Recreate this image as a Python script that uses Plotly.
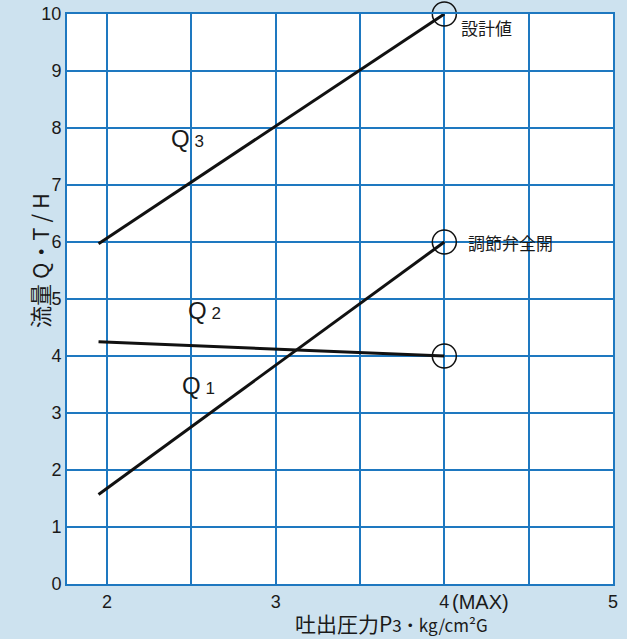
import plotly.graph_objects as go

# Data
pressure = [1.95, 4.0]
q3 = [5.97, 10.0]
q2 = [4.25, 4.0]
q1 = [1.57, 6.0]
marker_x = [4.0, 4.0, 4.0]
marker_y = [10.0, 6.0, 4.0]
x_tickvals = [2, 3, 4, 5]
x_ticktext = ["2", "3", "4", "5"]
y_tickvals = list(range(0, 11))

BG = "#cde2ef"
GRID = "#1e78c0"
TXT = "#1a1a1a"
FONT = "Liberation Sans, Arial, Noto Sans CJK JP, sans-serif"
JFONT = "Noto Sans CJK JP, sans-serif"

fig = go.Figure()
for ys in (q3, q2, q1):
    fig.add_trace(go.Scatter(x=pressure, y=ys, mode="lines",
                             line=dict(color="#111111", width=3),
                             showlegend=False, hoverinfo="skip"))
fig.add_trace(go.Scatter(x=marker_x, y=marker_y, mode="markers",
                         marker=dict(symbol="circle-open", size=24,
                                     color="#111111", line=dict(width=1.5)),
                         showlegend=False, hoverinfo="skip", cliponaxis=False))

fig.update_layout(
    width=627, height=639,
    margin=dict(l=67, r=14, t=14, b=55, autoexpand=False),
    paper_bgcolor=BG, plot_bgcolor="white",
    font=dict(family=FONT, color=TXT, size=18),
    xaxis=dict(range=[1.763, 5.0], tickvals=x_tickvals, ticktext=x_ticktext,
               showgrid=True, gridcolor=GRID, gridwidth=2,
               minor=dict(tickvals=[2.5, 3.5, 4.5], showgrid=True,
                          gridcolor=GRID, gridwidth=2),
               showline=True, linecolor=GRID, linewidth=2, mirror=True,
               zeroline=False, ticks="", tickfont=dict(size=18),
               automargin=False),
    yaxis=dict(range=[0, 10], tickvals=y_tickvals,
               showgrid=True, gridcolor=GRID, gridwidth=2,
               showline=True, linecolor=GRID, linewidth=2, mirror=True,
               zeroline=False, ticks="", tickfont=dict(size=18),
               automargin=False),
)

annots = [
    dict(x=4.0, y=0, yref="y", text="(MAX)", xanchor="left", yanchor="top",
         xshift=6, yshift=-5, font=dict(size=20)),
    dict(x=2.48, y=7.82, text="Q<span style='font-size:17px'> 3</span>",
         font=dict(size=24, family=FONT)),
    dict(x=2.58, y=4.8, text="Q<span style='font-size:17px'> 2</span>",
         font=dict(size=24, family=FONT)),
    dict(x=2.54, y=3.48, text="Q<span style='font-size:17px'> 1</span>",
         font=dict(size=24, family=FONT)),
    dict(x=4.0, y=9.77, text="設計値", xanchor="left", xshift=15,
         font=dict(size=17, family=JFONT)),
    dict(x=4.0, y=6.0, text="調節弁全開", xanchor="left", xshift=22,
         font=dict(size=17, family=JFONT)),
    dict(x=0.595, y=-0.069, xref="paper", yref="paper", yanchor="middle",
         text="吐出圧力P<span style='font-size:17px'>3・kg/cm²G</span>",
         font=dict(size=21, family=JFONT)),
    dict(x=-0.083, y=0.568, xref="paper", yref="paper", textangle=-90,
         text="流量 Q・T / H", font=dict(size=22, family=JFONT)),
]
for a in annots:
    a.setdefault("xref", "x")
    a.setdefault("yref", "y")
    a["showarrow"] = False
    fig.add_annotation(**a)

fig.write_html("out.html", config={"displayModeBar": False},
               post_script="document.body.style.margin='0';document.body.style.padding='0';")
